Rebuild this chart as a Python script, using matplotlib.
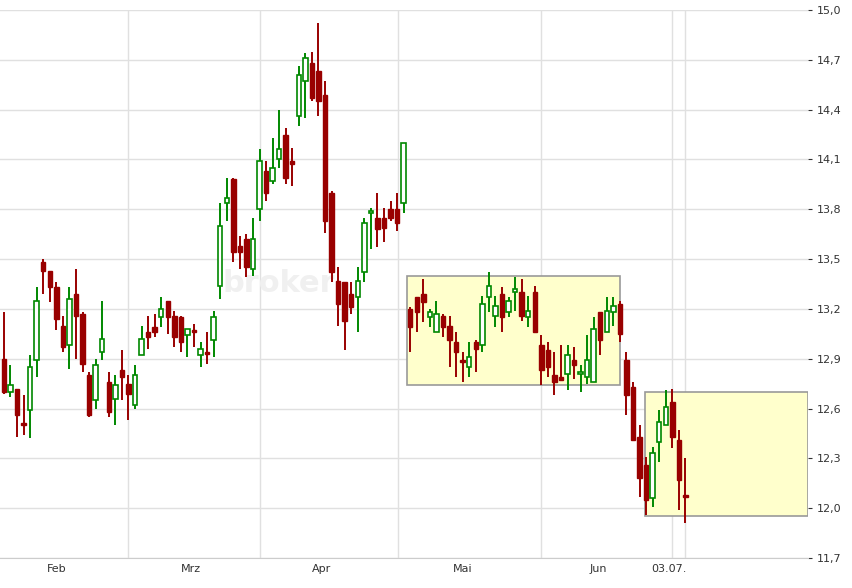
import matplotlib
matplotlib.use("Agg")
import matplotlib.pyplot as plt
from matplotlib.patches import Rectangle
from matplotlib.ticker import FixedLocator, FuncFormatter

opens = [12.90,12.70,12.72,12.51,12.59,12.89,13.48,13.43,13.33,13.10,12.98,13.29,13.17,12.80,12.65,12.94,12.76,12.66,12.83,12.75,12.62,
         12.92,13.06,13.09,13.15,13.25,13.16,13.15,13.04,13.07,12.92,12.94,13.01,13.34,13.84,13.98,13.58,13.62,13.44,13.80,14.03,13.97,
         14.10,14.25,14.09,14.36,14.57,14.68,14.63,14.49,13.90,13.37,13.36,13.29,13.27,13.42,13.78,13.75,13.75,13.80,13.80,13.84,
         13.20,13.27,13.29,13.15,13.06,13.16,13.10,13.00,12.89,12.85,13.00,12.98,13.27,13.16,13.29,13.18,13.30,13.30,13.15,13.30,
         12.98,12.95,12.80,12.79,12.81,12.89,12.81,12.79,12.76,13.18,13.06,13.18,13.23,
         12.89,12.73,12.43,12.26,12.06,12.40,12.50,12.64,12.41,12.08]
closes = [12.70,12.74,12.56,12.50,12.85,13.25,13.43,13.33,13.14,12.97,13.26,13.16,12.87,12.56,12.86,13.02,12.58,12.74,12.79,12.69,12.80,
          13.02,13.03,13.06,13.20,13.15,13.03,13.00,13.08,13.06,12.96,12.93,13.15,13.70,13.87,13.54,13.54,13.45,13.62,14.09,13.90,14.05,
          14.16,13.99,14.07,14.61,14.71,14.47,14.45,13.73,13.42,13.23,13.13,13.21,13.37,13.72,13.79,13.68,13.69,13.75,13.72,14.20,
          13.09,13.18,13.24,13.18,13.17,13.09,13.01,12.94,12.88,12.91,12.96,13.23,13.34,13.22,13.15,13.25,13.32,13.16,13.19,13.06,
          12.83,12.85,12.76,12.77,12.92,12.86,12.82,12.89,13.08,13.01,13.19,13.22,13.05,
          12.68,12.41,12.18,12.05,12.33,12.52,12.61,12.43,12.17,12.07]
highs = [13.18,12.86,12.72,12.68,12.92,13.33,13.50,13.43,13.36,13.16,13.33,13.44,13.18,12.82,12.90,13.25,12.82,12.80,12.95,12.80,12.86,
         13.10,13.16,13.17,13.27,13.25,13.19,13.16,13.08,13.11,13.00,13.06,13.19,13.84,13.99,13.99,13.64,13.65,13.75,14.16,14.09,14.23,
         14.40,14.29,14.17,14.66,14.74,14.75,14.92,14.57,13.91,13.45,13.36,13.36,13.45,13.75,13.81,13.90,13.81,13.85,13.90,14.20,
         13.21,13.27,13.38,13.20,13.25,13.17,13.16,13.06,12.94,13.00,13.01,13.28,13.42,13.28,13.33,13.27,13.39,13.38,13.28,13.34,
         13.04,13.00,12.94,12.98,12.98,12.97,12.86,13.04,13.15,13.18,13.27,13.27,13.25,
         12.94,12.76,12.50,12.31,12.37,12.59,12.71,12.72,12.47,12.30]
lows = [12.69,12.67,12.43,12.44,12.42,12.79,13.29,13.24,13.07,12.94,12.84,12.90,12.82,12.55,12.60,12.89,12.55,12.50,12.65,12.53,12.60,
        12.92,12.96,13.03,13.09,13.05,12.97,12.94,12.91,12.97,12.85,12.87,12.91,13.26,13.73,13.48,13.44,13.39,13.40,13.73,13.85,13.95,
        14.05,13.95,13.94,14.30,14.35,14.45,14.36,13.66,13.36,13.10,12.95,13.17,13.06,13.36,13.56,13.57,13.60,13.73,13.67,13.78,
        12.94,13.06,13.12,13.09,13.06,13.03,12.85,12.79,12.76,12.79,12.82,12.94,13.18,13.09,13.06,13.15,13.19,13.13,13.09,13.06,
        12.74,12.79,12.68,12.77,12.71,12.78,12.70,12.75,12.76,12.92,13.06,13.10,13.00,
        12.56,12.41,12.07,11.96,12.01,12.28,12.50,12.36,11.99,11.91]

month_labels = ["Feb", "Mrz", "Apr", "Mai", "Jun", "03.07."]
month_label_pos = [8, 28.5, 48.5, 70, 90.7, 101.5]
month_grid_pos = [19, 39, 60.2, 82, 102, 104]
y_ticks = [11.7, 12.0, 12.3, 12.6, 12.9, 13.2, 13.5, 13.8, 14.1, 14.4, 14.7, 15.0]
boxes = [(61.5, 94.0, 12.74, 13.40), (97.9, 122.7, 11.95, 12.70)]

fig = plt.figure(figsize=(8.52, 5.88), dpi=100)
ax = fig.add_axes([0.0, 30/588, 808/852, 548/588])
ax.set_xlim(-0.6, 122.7)
ax.set_ylim(11.7, 15.0)

for x0, x1, y0, y1 in boxes:
    ax.add_patch(Rectangle((x0, y0), x1-x0, y1-y0, facecolor="#ffffcc", edgecolor="#999999", lw=1.2, zorder=1))

ax.text(42, 13.35, "broker", fontsize=22, color="#f0f0f0", ha="center", va="center", zorder=1.5, fontweight="bold")

red, green = "#990000", "#008800"
w = 0.68
for i, (o, c, h, l) in enumerate(zip(opens, closes, highs, lows)):
    col = green if c >= o else red
    ax.vlines(i, l, h, color=col, lw=1.4, zorder=3)
    lo, hi = min(o, c), max(o, c)
    hgt = max(hi - lo, 0.012)
    if c >= o:
        ax.add_patch(Rectangle((i - w/2, lo), w, hgt, facecolor="white", edgecolor=green, lw=1.2, zorder=4))
    else:
        ax.add_patch(Rectangle((i - w/2, lo), w, hgt, facecolor=red, edgecolor=red, lw=1.0, zorder=4))

for t in y_ticks:
    ax.axhline(t, color="#e0e0e0", lw=1, zorder=0)
for g in month_grid_pos:
    ax.axvline(g, color="#e0e0e0", lw=1, zorder=0.5)

ax.yaxis.tick_right()
ax.yaxis.set_major_locator(FixedLocator(y_ticks))
ax.yaxis.set_major_formatter(FuncFormatter(lambda v, p: f"{v:.1f}".replace(".", ",")))
ax.tick_params(axis="y", length=3, labelsize=8, colors="#333333", pad=3)
ax.set_xticks(month_label_pos)
ax.set_xticklabels(month_labels)
ax.tick_params(axis="x", length=0, labelsize=8, colors="#333333", pad=4)
for s in ["top", "left", "right"]:
    ax.spines[s].set_visible(False)
ax.spines["bottom"].set_color("#cccccc")

fig.savefig("out.png", dpi=100, facecolor="white")
